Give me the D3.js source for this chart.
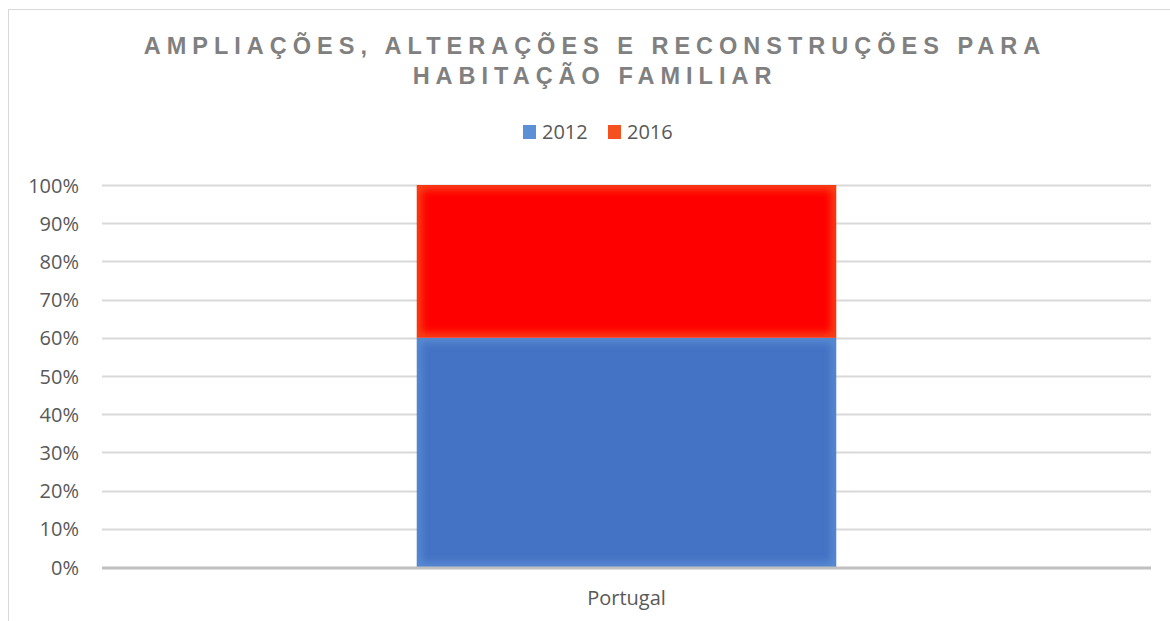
<!DOCTYPE html>
<html lang="pt">
<head>
<meta charset="utf-8">
<title>Ampliações, alterações e reconstruções</title>
<script src="https://d3js.org/d3.v7.min.js"></script>
<style>
  body { margin: 0; background: #fff; }
  .eixo text { font: 20px "Open Sans", "Liberation Sans", sans-serif; fill: #595959; }
</style>
</head>
<body>
<div id="chart"></div>
<script>
"use strict"

// dados
const categorias = ["Portugal"];
const series = ["2012", "2016"];
const valores2012 = [0.60];
const valores2016 = [0.40];
const ticksY = [0, 0.1, 0.2, 0.3, 0.4, 0.5, 0.6, 0.7, 0.8, 0.9, 1.0];
const linhasTitulo = ["AMPLIAÇÕES, ALTERAÇÕES E RECONSTRUÇÕES PARA", "HABITAÇÃO FAMILIAR"];

const cores = { "2012": "#4472C4", "2016": "#FF0000" };
const coresBorda = { "2012": "#5B8FD6", "2016": "#F4511E" };

const larguraSVG = 1170, alturaSVG = 621;
const margin = {top: 185, right: 19, bottom: 54, left: 102};
const larguraVis = larguraSVG - margin.left - margin.right,
      alturaVis = alturaSVG - margin.top - margin.bottom;

const svg = d3.select("#chart").append("svg")
  .attr("width", larguraSVG)
  .attr("height", alturaSVG);

// moldura do grafico
svg.append("rect")
  .attr("x", 8.5).attr("y", 9.5)
  .attr("width", larguraSVG + 20).attr("height", alturaSVG + 20)
  .attr("fill", "none").attr("stroke", "#d9d9d9");

// titulo
svg.append("text")
  .attr("text-anchor", "middle")
  .style("font", "bold 23.5px 'Liberation Sans', Arial, sans-serif")
  .style("letter-spacing", "6px")
  .attr("fill", "#808080")
  .selectAll("tspan")
  .data(linhasTitulo)
  .join("tspan")
    .attr("x", 595)
    .attr("y", (d, i) => 54 + i * 30)
    .text(d => d);

// legenda
const legenda = svg.append("g").attr("transform", "translate(523,0)");
const itens = legenda.selectAll("g").data(series).join("g")
  .attr("transform", (d, i) => "translate(" + (i * 85) + ",0)");
itens.append("rect")
  .attr("x", 0).attr("y", 125).attr("width", 13).attr("height", 14)
  .attr("fill", d => coresBorda[d]);
itens.append("text")
  .attr("x", 19).attr("y", 139)
  .style("font", "20px 'Open Sans', 'Liberation Sans', sans-serif")
  .attr("fill", "#595959")
  .text(d => d);

const g = svg.append("g")
  .attr("transform", "translate(" + margin.left + "," + margin.top + ")");

// escalas
const x = d3.scaleBand()
  .domain(categorias)
  .range([0, larguraVis])
  .paddingInner(0.6)
  .paddingOuter(0.3);

const y = d3.scaleLinear()
  .domain([0, 1])
  .range([alturaVis, 0]);

// grade
g.append("g")
  .selectAll("line")
  .data(ticksY.slice(1))
  .join("line")
    .attr("x1", 0).attr("x2", larguraVis)
    .attr("y1", d => Math.round(y(d)) + 0.5).attr("y2", d => Math.round(y(d)) + 0.5)
    .attr("stroke", "#d9d9d9").attr("stroke-width", 2);

// eixo y
const eixoY = g.append("g")
  .attr("class", "eixo")
  .call(d3.axisLeft(y).tickValues(ticksY).tickFormat(d3.format(".0%")).tickSize(0).tickPadding(23));
eixoY.select(".domain").remove();
eixoY.selectAll("text").attr("dy", "0.35em");

// pilhas
const tabela = categorias.map((c, i) => ({ categoria: c, "2012": valores2012[i], "2016": valores2016[i] }));
const pilhas = d3.stack().keys(series)(tabela);

const defs = svg.append("defs");
const blur = defs.append("filter").attr("id", "brilho")
  .attr("x", "-10%").attr("y", "-10%").attr("width", "120%").attr("height", "120%");
blur.append("feGaussianBlur").attr("stdDeviation", 4);

pilhas.forEach(serie => {
  serie.forEach((d, i) => {
    const bx = x(d.data.categoria), by = y(d[1]);
    const bw = x.bandwidth(), bh = y(d[0]) - y(d[1]);
    const id = "clip-" + serie.key + "-" + i;
    defs.append("clipPath").attr("id", id)
      .append("rect").attr("x", bx).attr("y", by).attr("width", bw).attr("height", bh);
    const barra = g.append("g").attr("clip-path", "url(#" + id + ")");
    barra.append("rect")
      .attr("x", bx).attr("y", by).attr("width", bw).attr("height", bh)
      .attr("fill", cores[serie.key]);
    barra.append("rect")
      .attr("x", bx).attr("y", by).attr("width", bw).attr("height", bh)
      .attr("fill", "none")
      .attr("stroke", coresBorda[serie.key]).attr("stroke-width", 8)
      .attr("filter", "url(#brilho)");
  });
});

// eixo x
g.append("line")
  .attr("x1", 0).attr("x2", larguraVis)
  .attr("y1", alturaVis + 1).attr("y2", alturaVis + 1)
  .attr("stroke", "#bfbfbf").attr("stroke-width", 3);

g.append("g")
  .attr("class", "eixo")
  .selectAll("text")
  .data(categorias)
  .join("text")
    .attr("x", d => x(d) + x.bandwidth() / 2)
    .attr("y", alturaVis + 38)
    .attr("text-anchor", "middle")
    .text(d => d);
</script>
</body>
</html>
